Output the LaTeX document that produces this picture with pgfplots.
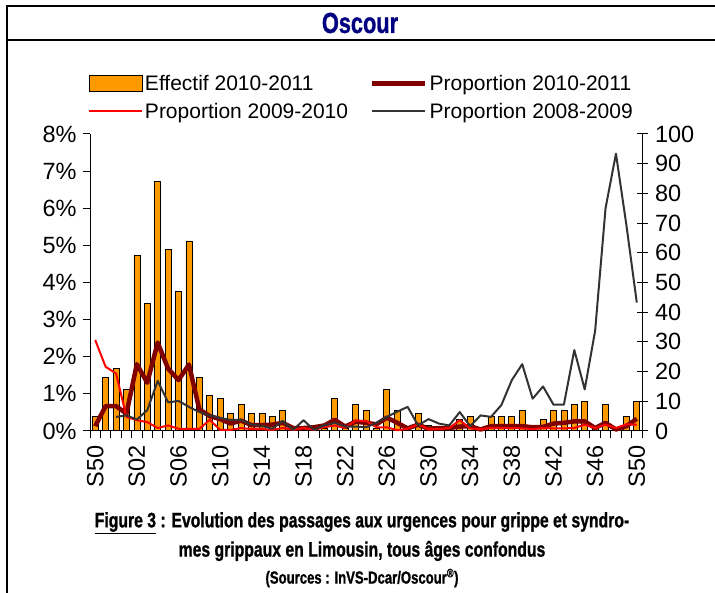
\documentclass[border=0pt]{standalone}
\usepackage{fontspec}
\setmainfont{Liberation Sans}
\newfontfamily\condfont[FakeStretch=0.75,FakeBold=1]{Liberation Sans}
\usepackage{pgfplots}
\usepackage{pgfplotstable}
\pgfplotsset{compat=1.18}
\definecolor{barorange}{HTML}{FF9900}
\definecolor{darkred}{HTML}{800000}
\definecolor{navyblue}{HTML}{000080}
\definecolor{darkgray8}{HTML}{333333}
\pgfplotsset{
 barlegend/.style={legend image code/.code={\draw[##1] (0pt,-8pt) rectangle (53pt,8pt);}},
 linelegend/.style={legend image code/.code={\draw[##1] (0pt,0pt) -- (53pt,0pt);}},
}

\pgfplotstableread{
x eff p1011 p0910
0 5 0.13 2.45
1 18 0.67 1.73
2 21 0.67 1.55
3 14 0.47 0.38
4 59 1.80 0.29
5 43 1.30 0.24
6 84 2.38 0.08
7 61 1.68 0.15
8 47 1.37 0.06
9 64 1.79 0.06
10 18 0.58 0.06
11 12 0.40 0.30
12 11 0.32 0.03
13 6 0.20 0.03
14 9 0.28 0.08
15 6 0.16 0.05
16 6 0.16 0.05
17 5 0.17 0.03
18 7 0.22 0.08
19 1 0.08 0.03
20 1 0.08 0.08
21 2 0.10 0.03
22 1 0.15 0.10
23 11 0.30 0.15
24 1 0.12 0.08
25 9 0.25 0.28
26 7 0.22 0.27
27 1 0.18 0.10
28 14 0.36 0.10
29 7 0.22 0.02
30 1 0.07 0.06
31 6 0.17 0.18
32 2 0.06 0.05
33 1 0.08 0.05
34 1 0.08 0.08
35 4 0.12 0.29
36 5 0.13 0.07
37 1 0.04 0.05
38 5 0.13 0.08
39 5 0.13 0.08
40 5 0.13 0.08
41 7 0.13 0.07
42 2 0.10 0.05
43 4 0.11 0.08
44 7 0.20 0.07
45 7 0.22 0.07
46 9 0.26 0.08
47 10 0.26 0.17
48 1 0.08 0.08
49 9 0.22 0.17
50 1 0.04 0.08
51 5 0.13 0.18
52 10 0.33 0.17
}\data

\pgfplotstableread{
x p0809
2 0.38
3 0.42
4 0.31
5 0.56
6 1.35
7 0.77
8 0.81
9 0.65
10 0.51
11 0.42
12 0.35
13 0.30
14 0.30
15 0.17
16 0.14
17 0.06
18 0.27
19 0.03
20 0.29
21 0.03
22 0.15
23 0.22
24 0.12
25 0.12
26 0.10
27 0.22
28 0.38
29 0.52
30 0.65
31 0.15
32 0.32
33 0.20
34 0.15
35 0.51
36 0.13
37 0.42
38 0.38
39 0.70
40 1.37
41 1.80
42 0.87
43 1.20
44 0.71
45 0.71
46 2.18
47 1.12
48 2.70
49 6.00
50 7.47
51 5.55
52 3.46
}\datagray

\begin{document}
\begin{tikzpicture}
\path[use as bounding box] (0,0) rectangle (715pt,593pt);
\draw[line width=2.5pt] (7pt,0pt) -- (7pt,587pt) -- (716pt,587pt);
\draw[line width=2.5pt] (7pt,553pt) -- (716pt,553pt);
\node[font=\condfont\bfseries\fontsize{29}{34}\selectfont, text=navyblue] at (360pt,570pt) {Oscour};

\begin{axis}[
 at={(90pt,162pt)}, anchor=south west,
 scale only axis, width=552pt, height=297pt,
 xmin=-0.5, xmax=52.5, ymin=0, ymax=100,
 axis x line=none, axis y line*=right,
 ytick={0,10,...,100}, ytick align=center, major tick length=11pt,
 tick label style={font=\fontsize{23.5}{27}\selectfont},
 /pgf/number format/assume math mode=true,
 yticklabel style={xshift=4pt},
 axis line style={line width=1pt, -}, tick style={line width=1pt, black},
]
\addplot[ybar, bar width=6pt, fill=barorange, draw=black, line width=0.7pt] table[x=x,y=eff]{\data};
\end{axis}

\begin{axis}[
 at={(90pt,162pt)}, anchor=south west,
 scale only axis, width=552pt, height=297pt,
 xmin=-0.5, xmax=52.5, ymin=0, ymax=8,
 axis x line*=bottom, axis y line*=left,
 axis line style={line width=1pt, -}, tick style={line width=1pt, black},
 ytick={0,1,...,8},
 yticklabels={0\%,1\%,2\%,3\%,4\%,5\%,6\%,7\%,8\%},
 yticklabel shift=3pt,
 tick align=outside, major tick length=7pt,
 xtick={-0.5,0.5,...,52.5}, xticklabels={},
 extra x ticks={0,4,...,52},
 extra x tick labels={S50,S02,S06,S10,S14,S18,S22,S26,S30,S34,S38,S42,S46,S50},
 extra x tick style={tick style={draw=none}, xticklabel shift=4pt, xticklabel style={rotate=90, anchor=east}},
 tick label style={font=\fontsize{23.5}{27}\selectfont},
 clip=false,
 legend columns=2,
 legend cell align=left,
 legend style={at={(-0.004,1.205)}, anchor=north west, draw=none, fill=none, inner sep=0pt,
   font=\fontsize{21}{25}\selectfont,
   /tikz/every even column/.append style={column sep=20pt}, row sep=7pt},
 linelegend,
]
\addlegendimage{fill=barorange, draw=black, line width=0.7pt, barlegend}
\addlegendentry{Effectif 2010-2011}
\addplot[darkred, line width=4.5pt, line join=round] table[x=x,y=p1011]{\data};
\addlegendentry{Proportion 2010-2011}
\addplot[red, line width=2pt, line join=round] table[x=x,y=p0910]{\data};
\addlegendentry{Proportion 2009-2010}
\addplot[darkgray8, line width=2pt, line join=round] table[x=x,y=p0809]{\datagray};
\addlegendentry{Proportion 2008-2009}
\end{axis}

\node[font=\condfont\bfseries\fontsize{21}{25}\selectfont] at (362pt,70pt) {\underline{Figure 3} : Evolution des passages aux urgences pour grippe et syndro-};
\node[font=\condfont\bfseries\fontsize{21}{25}\selectfont] at (362pt,42pt) {mes grippaux en Limousin, tous âges confondus};
\node[font=\condfont\bfseries\fontsize{17.5}{21}\selectfont] at (362pt,15pt) {(Sources : InVS-Dcar/Oscour\textsuperscript{®})};
\end{tikzpicture}
\end{document}
